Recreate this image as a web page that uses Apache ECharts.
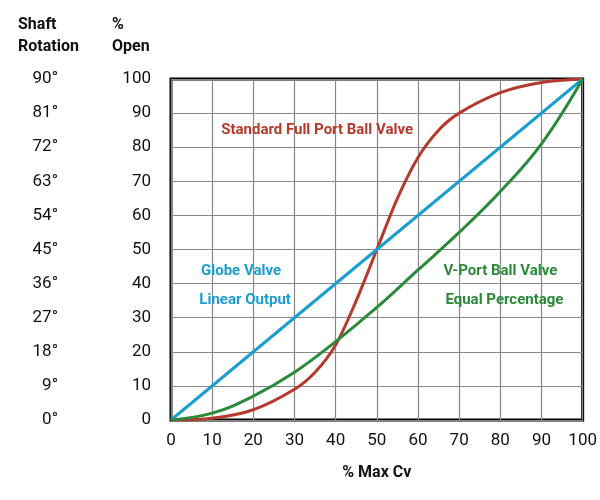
<!DOCTYPE html>
<html>
<head>
<meta charset="utf-8">
<script src="https://cdn.jsdelivr.net/npm/echarts@6/dist/echarts.min.js"></script>
<style>html,body{margin:0;background:#fff}#chart{width:600px;height:500px}</style>
</head>
<body>
<div id="chart"></div>
<script>
// % Max Cv vs % Open
const ballX = [0, 10, 20, 30, 35, 40, 45, 50, 55, 60, 65, 70, 80, 90, 100];
const ballY = [0, 0.5, 3, 9, 14, 22, 35, 50, 65, 77, 85, 90, 96, 99, 100];
const globeX = [0, 100];
const globeY = [0, 100];
const vportX = [0, 10, 20, 30, 40, 50, 60, 70, 80, 90, 100];
const vportY = [0, 2, 7, 14, 23, 33, 44, 55, 67, 81, 100];
const rotationLabels = ['0°', '9°', '18°', '27°', '36°', '45°', '54°', '63°', '72°', '81°', '90°'];

const pairs = (xs, ys) => xs.map((x, i) => [x, ys[i]]);
const font = 'Roboto';
const chart = echarts.init(document.getElementById('chart'));

chart.setOption({
    grid: {left: 171, top: 79, right: 17, bottom: 80, show: true, borderColor: '#000', borderWidth: 3},
    xAxis: {
        type: 'value', min: 0, max: 100, interval: 10,
        axisLine: {show: false}, axisTick: {show: false},
        axisLabel: {color: '#111', fontSize: 17, fontFamily: font, margin: 12},
        splitLine: {lineStyle: {color: '#888', width: 1.2}},
        name: '% Max Cv', nameLocation: 'middle', nameGap: 45,
        nameTextStyle: {color: '#111', fontSize: 16, fontWeight: 'bold', fontFamily: font}
    },
    yAxis: [{
        type: 'value', min: 0, max: 100, interval: 10,
        axisLine: {show: false}, axisTick: {show: false},
        axisLabel: {color: '#111', fontSize: 17, fontFamily: font, margin: 20},
        splitLine: {lineStyle: {color: '#888', width: 1.2}}
    }, {
        type: 'value', min: 0, max: 100, interval: 10, position: 'left', offset: 105,
        axisLine: {show: false}, axisTick: {show: false}, splitLine: {show: false},
        axisLabel: {color: '#111', fontSize: 17, fontFamily: font,
            formatter: v => rotationLabels[Math.round(v / 10)]}
    }],
    graphic: [
        {type: 'text', left: 18, top: 14, style: {text: 'Shaft\nRotation', fill: '#111', font: 'bold 16px Roboto', align: 'center', lineHeight: 22, x: 32}},
        {type: 'text', left: 112, top: 14, style: {text: '%\nOpen', fill: '#111', font: 'bold 16px Roboto', align: 'center', lineHeight: 22, x: 30}}
    ],
    series: [
        {type: 'line', data: pairs(ballX, ballY), smooth: 0.3, symbol: 'none', lineStyle: {color: '#b5392c', width: 3}},
        {type: 'line', data: pairs(globeX, globeY), symbol: 'none', lineStyle: {color: '#1a9ed0', width: 3}},
        {type: 'line', data: pairs(vportX, vportY), smooth: 0.4, symbol: 'none', lineStyle: {color: '#2a8a3a', width: 3}},
        {type: 'scatter', data: [], silent: true,
            markPoint: {symbol: 'circle', symbolSize: 0, data: [
                {coord: [35.5, 85], label: {formatter: 'Standard Full Port Ball Valve', color: '#b5392c'}},
                {coord: [17, 43.5], label: {formatter: 'Globe Valve', color: '#1a9ed0'}},
                {coord: [18, 35], label: {formatter: 'Linear Output', color: '#1a9ed0'}},
                {coord: [80, 43.5], label: {formatter: 'V-Port Ball Valve', color: '#2a8a3a'}},
                {coord: [81, 35], label: {formatter: 'Equal Percentage', color: '#2a8a3a'}}
            ], label: {show: true, position: 'inside', fontSize: 15, fontWeight: 'bold', fontFamily: font}}}
    ]
});
</script>
</body>
</html>
